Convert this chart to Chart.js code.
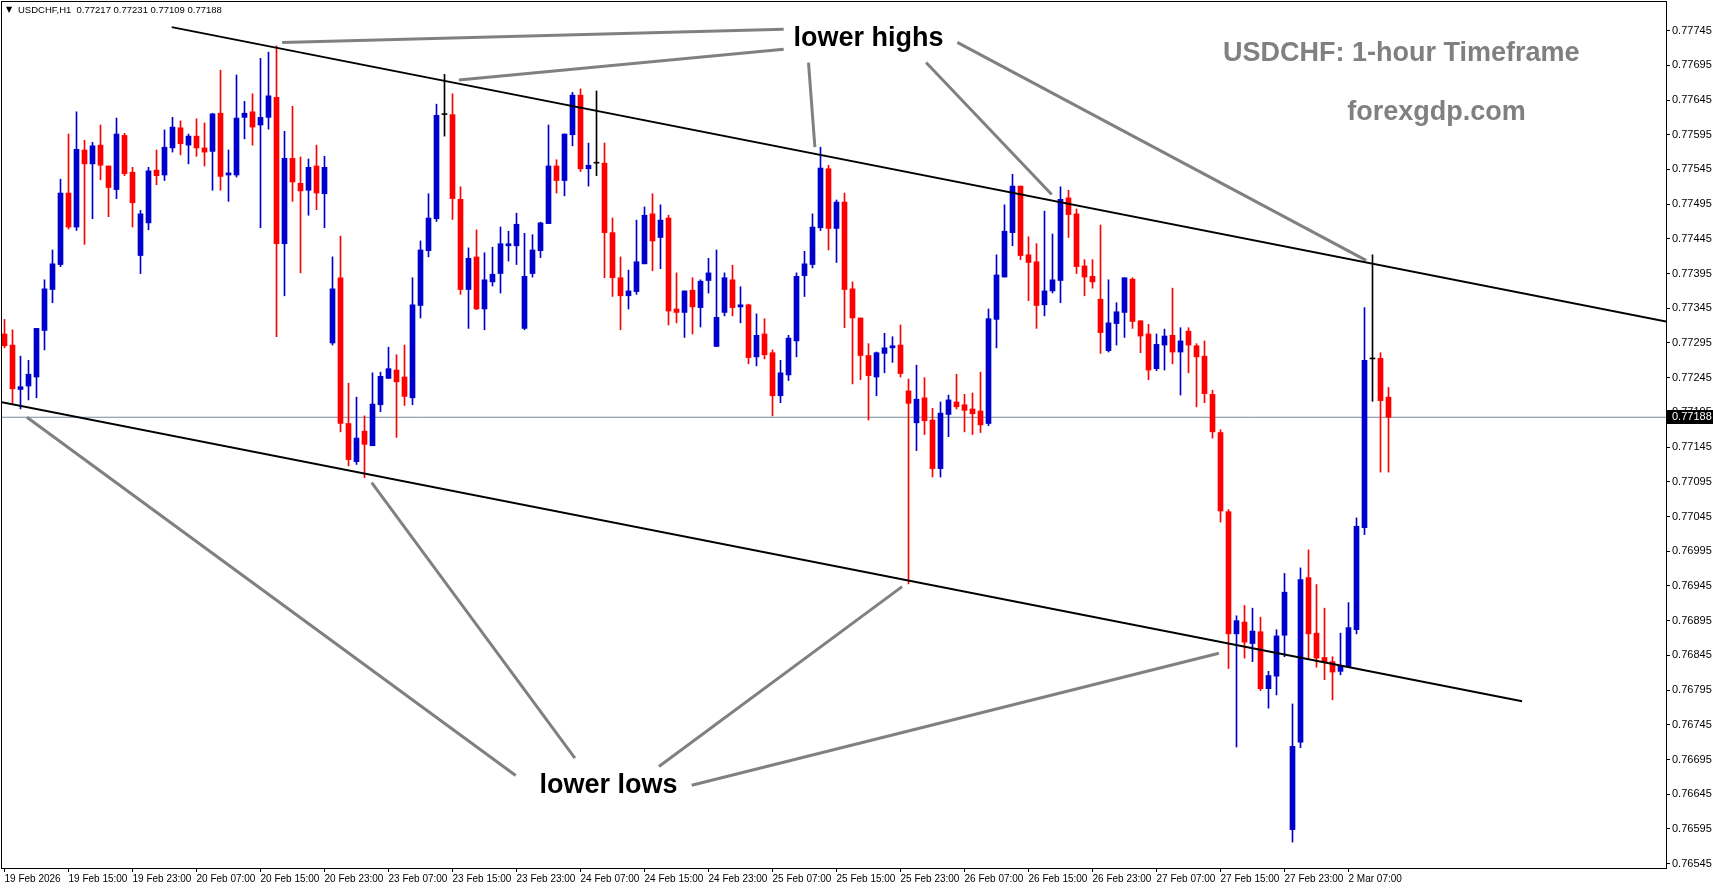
<!DOCTYPE html>
<html>
<head>
<meta charset="utf-8">
<title>USDCHF H1</title>
<script src="https://cdn.jsdelivr.net/npm/chart.js@4.4.1/dist/chart.umd.min.js"></script>
<style>
  html, body { margin: 0; padding: 0; background: #fff; }
  canvas { display: block; }
</style>
</head>
<body>
<canvas id="chart" width="1713" height="888"></canvas>
<script>
// USDCHF H1 bars, 19 Feb 2026 07:00 -> 2 Mar 2026 12:00
const opens = [
  0.77308, 0.77292, 0.77228, 0.77233, 0.77246, 0.77313, 0.77372, 0.77408, 0.77511, 0.77462,
  0.77573, 0.77553, 0.77580, 0.77550, 0.77516, 0.77594, 0.77541, 0.77421, 0.77468, 0.77544,
  0.77537, 0.77576, 0.77605, 0.77580, 0.77593, 0.77576, 0.77571, 0.77626, 0.77537, 0.77537,
  0.77620, 0.77628, 0.77609, 0.77620, 0.77649, 0.77438, 0.77561, 0.77525, 0.77515, 0.77550,
  0.77510, 0.77295, 0.77389, 0.77179, 0.77124, 0.77168, 0.77147, 0.77206, 0.77244, 0.77256,
  0.77246, 0.77216, 0.77349, 0.77428, 0.77474, 0.77624, 0.77624, 0.77502, 0.77372, 0.77419,
  0.77344, 0.77383, 0.77395, 0.77435, 0.77435, 0.77316, 0.77395, 0.77428, 0.77467, 0.77550,
  0.77529, 0.77595, 0.77652, 0.77546, 0.77554, 0.77554, 0.77454, 0.77389, 0.77363, 0.77369,
  0.77409, 0.77481, 0.77447, 0.77475, 0.77344, 0.77339, 0.77371, 0.77346, 0.77385, 0.77290,
  0.77339, 0.77386, 0.77347, 0.77350, 0.77275, 0.77308, 0.77281, 0.77219, 0.77249, 0.77298,
  0.77392, 0.77408, 0.77461, 0.77546, 0.77460, 0.77498, 0.77373, 0.77331, 0.77277, 0.77246,
  0.77280, 0.77288, 0.77292, 0.77226, 0.77180, 0.77216, 0.77184, 0.77114, 0.77192, 0.77210,
  0.77206, 0.77200, 0.77197, 0.77179, 0.77329, 0.77390, 0.77454, 0.77521, 0.77422, 0.77412,
  0.77350, 0.77370, 0.77385, 0.77504, 0.77481, 0.77406, 0.77391, 0.77358, 0.77284, 0.77323,
  0.77339, 0.77387, 0.77327, 0.77308, 0.77258, 0.77292, 0.77306, 0.77282, 0.77312, 0.77291,
  0.77276, 0.77221, 0.77166, 0.77052, 0.76876, 0.76893, 0.76862, 0.76879, 0.76797, 0.76815,
  0.76874, 0.76594, 0.76720, 0.76957, 0.76877, 0.76842, 0.76836, 0.76822, 0.76829, 0.76882,
  0.77029, 0.77272, 0.77273, 0.77217
];
const highs = [
  0.77329, 0.77314, 0.77276, 0.77270, 0.77316, 0.77386, 0.77429, 0.77531, 0.77596, 0.77628,
  0.77587, 0.77584, 0.77609, 0.77550, 0.77619, 0.77597, 0.77548, 0.77486, 0.77548, 0.77573,
  0.77602, 0.77620, 0.77615, 0.77596, 0.77618, 0.77612, 0.77626, 0.77688, 0.77573, 0.77681,
  0.77643, 0.77654, 0.77705, 0.77714, 0.77723, 0.77600, 0.77636, 0.77563, 0.77560, 0.77580,
  0.77564, 0.77419, 0.77449, 0.77237, 0.77217, 0.77190, 0.77252, 0.77253, 0.77289, 0.77278,
  0.77292, 0.77389, 0.77442, 0.77510, 0.77639, 0.77682, 0.77654, 0.77520, 0.77432, 0.77458,
  0.77425, 0.77433, 0.77462, 0.77456, 0.77482, 0.77453, 0.77451, 0.77469, 0.77609, 0.77559,
  0.77596, 0.77656, 0.77661, 0.77583, 0.77658, 0.77583, 0.77475, 0.77419, 0.77400, 0.77472,
  0.77491, 0.77510, 0.77494, 0.77479, 0.77396, 0.77370, 0.77389, 0.77386, 0.77417, 0.77429,
  0.77396, 0.77407, 0.77376, 0.77351, 0.77337, 0.77330, 0.77285, 0.77270, 0.77306, 0.77396,
  0.77427, 0.77481, 0.77577, 0.77551, 0.77501, 0.77511, 0.77383, 0.77331, 0.77294, 0.77282,
  0.77309, 0.77304, 0.77321, 0.77243, 0.77263, 0.77245, 0.77201, 0.77210, 0.77220, 0.77250,
  0.77221, 0.77223, 0.77253, 0.77344, 0.77422, 0.77494, 0.77538, 0.77521, 0.77448, 0.77438,
  0.77485, 0.77452, 0.77520, 0.77515, 0.77488, 0.77415, 0.77415, 0.77465, 0.77386, 0.77353,
  0.77389, 0.77389, 0.77327, 0.77322, 0.77308, 0.77315, 0.77374, 0.77317, 0.77317, 0.77294,
  0.77298, 0.77227, 0.77170, 0.77055, 0.76902, 0.76917, 0.76913, 0.76900, 0.76822, 0.76882,
  0.76963, 0.76775, 0.76971, 0.76997, 0.76947, 0.76913, 0.76843, 0.76877, 0.76921, 0.77043,
  0.77346, 0.77422, 0.77281, 0.77231
];
const lows = [
  0.77288, 0.77208, 0.77200, 0.77213, 0.77216, 0.77285, 0.77353, 0.77405, 0.77459, 0.77457,
  0.77437, 0.77474, 0.77530, 0.77477, 0.77503, 0.77536, 0.77462, 0.77395, 0.77458, 0.77523,
  0.77529, 0.77570, 0.77566, 0.77553, 0.77564, 0.77550, 0.77515, 0.77515, 0.77499, 0.77534,
  0.77589, 0.77580, 0.77461, 0.77603, 0.77304, 0.77363, 0.77499, 0.77396, 0.77479, 0.77487,
  0.77461, 0.77292, 0.77167, 0.77118, 0.77120, 0.77101, 0.77147, 0.77196, 0.77244, 0.77159,
  0.77205, 0.77206, 0.77331, 0.77419, 0.77470, 0.77593, 0.77473, 0.77365, 0.77316, 0.77343,
  0.77314, 0.77377, 0.77367, 0.77413, 0.77408, 0.77314, 0.77390, 0.77418, 0.77467, 0.77511,
  0.77507, 0.77579, 0.77542, 0.77521, 0.77536, 0.77389, 0.77362, 0.77314, 0.77344, 0.77365,
  0.77409, 0.77399, 0.77402, 0.77321, 0.77324, 0.77303, 0.77308, 0.77318, 0.77367, 0.77290,
  0.77334, 0.77334, 0.77324, 0.77265, 0.77262, 0.77272, 0.77190, 0.77209, 0.77241, 0.77275,
  0.77362, 0.77403, 0.77457, 0.77429, 0.77411, 0.77317, 0.77236, 0.77242, 0.77184, 0.77219,
  0.77252, 0.77267, 0.77246, 0.76948, 0.77140, 0.77163, 0.77102, 0.77102, 0.77160, 0.77200,
  0.77167, 0.77163, 0.77166, 0.77176, 0.77288, 0.77390, 0.77435, 0.77415, 0.77356, 0.77316,
  0.77334, 0.77367, 0.77353, 0.77447, 0.77395, 0.77363, 0.77374, 0.77280, 0.77282, 0.77292,
  0.77303, 0.77316, 0.77281, 0.77242, 0.77255, 0.77256, 0.77265, 0.77220, 0.77252, 0.77203,
  0.77209, 0.77158, 0.77037, 0.76826, 0.76713, 0.76841, 0.76836, 0.76794, 0.76769, 0.76788,
  0.76843, 0.76576, 0.76712, 0.76841, 0.76828, 0.76810, 0.76781, 0.76817, 0.76829, 0.76876,
  0.77019, 0.77211, 0.77109, 0.77109
];
const closes = [
  0.77291, 0.77229, 0.77232, 0.77250, 0.77316, 0.77373, 0.77409, 0.77511, 0.77462, 0.77574,
  0.77553, 0.77579, 0.77551, 0.77519, 0.77596, 0.77539, 0.77497, 0.77481, 0.77543, 0.77536,
  0.77577, 0.77606, 0.77582, 0.77593, 0.77576, 0.77570, 0.77625, 0.77535, 0.77540, 0.77619,
  0.77626, 0.77606, 0.77620, 0.77651, 0.77438, 0.77561, 0.77527, 0.77514, 0.77548, 0.77511,
  0.77548, 0.77373, 0.77179, 0.77127, 0.77158, 0.77149, 0.77207, 0.77247, 0.77258, 0.77239,
  0.77218, 0.77350, 0.77429, 0.77475, 0.77623, 0.77624, 0.77503, 0.77372, 0.77417, 0.77344,
  0.77386, 0.77394, 0.77438, 0.77438, 0.77466, 0.77391, 0.77429, 0.77468, 0.77550, 0.77529,
  0.77596, 0.77652, 0.77546, 0.77551, 0.77554, 0.77454, 0.77389, 0.77363, 0.77370, 0.77412,
  0.77479, 0.77442, 0.77472, 0.77341, 0.77339, 0.77370, 0.77347, 0.77384, 0.77396, 0.77332,
  0.77389, 0.77346, 0.77350, 0.77274, 0.77306, 0.77278, 0.77219, 0.77252, 0.77302, 0.77391,
  0.77409, 0.77462, 0.77547, 0.77460, 0.77498, 0.77372, 0.77331, 0.77277, 0.77248, 0.77281,
  0.77288, 0.77291, 0.77251, 0.77208, 0.77214, 0.77183, 0.77114, 0.77194, 0.77213, 0.77203,
  0.77198, 0.77193, 0.77177, 0.77330, 0.77393, 0.77456, 0.77521, 0.77421, 0.77411, 0.77349,
  0.77370, 0.77386, 0.77502, 0.77480, 0.77405, 0.77390, 0.77383, 0.77310, 0.77324, 0.77340,
  0.77389, 0.77326, 0.77305, 0.77256, 0.77293, 0.77305, 0.77282, 0.77298, 0.77292, 0.77275,
  0.77222, 0.77167, 0.77053, 0.76876, 0.76895, 0.76864, 0.76880, 0.76797, 0.76816, 0.76873,
  0.76936, 0.76714, 0.76954, 0.76876, 0.76841, 0.76835, 0.76821, 0.76830, 0.76885, 0.77031,
  0.77270, 0.77272, 0.77212, 0.77188
];

// one label every 8 bars, starting at bar 0
const timeLabels = [
  '19 Feb 2026', '19 Feb 15:00', '19 Feb 23:00', '20 Feb 07:00', '20 Feb 15:00', '20 Feb 23:00',
  '23 Feb 07:00', '23 Feb 15:00', '23 Feb 23:00', '24 Feb 07:00', '24 Feb 15:00', '24 Feb 23:00',
  '25 Feb 07:00', '25 Feb 15:00', '25 Feb 23:00', '26 Feb 07:00', '26 Feb 15:00', '26 Feb 23:00',
  '27 Feb 07:00', '27 Feb 15:00', '27 Feb 23:00', '2 Mar 07:00'
];
const priceTicks = [
  0.76545, 0.76595, 0.76645, 0.76695, 0.76745, 0.76795, 0.76845, 0.76895, 0.76945,
  0.76995, 0.77045, 0.77095, 0.77145, 0.77195, 0.77245, 0.77295, 0.77345, 0.77395,
  0.77445, 0.77495, 0.77545, 0.77595, 0.77645, 0.77695, 0.77745
];

// drawn objects, in bar index / price
const upperTrend = [{ x: 20.9, y: 0.77750 }, { x: 207.7, y: 0.77326 }];
const lowerTrend = [{ x: -0.5, y: 0.77210 }, { x: 189.7, y: 0.76779 }];
const highPointers = [
  [{ x: 34.7, y: 0.77728 }, { x: 97.4, y: 0.77747 }],
  [{ x: 56.8, y: 0.77674 }, { x: 97.4, y: 0.77718 }],
  [{ x: 100.5, y: 0.77699 }, { x: 101.3, y: 0.77577 }],
  [{ x: 115.2, y: 0.77699 }, { x: 130.9, y: 0.77509 }],
  [{ x: 119.1, y: 0.77728 }, { x: 170.2, y: 0.77414 }]
];
const lowPointers = [
  [{ x: 2.8, y: 0.77188 }, { x: 63.9, y: 0.76672 }],
  [{ x: 45.9, y: 0.77094 }, { x: 71.3, y: 0.76697 }],
  [{ x: 112.2, y: 0.76944 }, { x: 81.8, y: 0.76685 }],
  [{ x: 151.8, y: 0.76848 }, { x: 85.9, y: 0.76658 }]
];
const notes = [
  { text: 'lower highs', x: 108.0, y: 0.77733, color: '#000000' },
  { text: 'lower lows', x: 75.5, y: 0.76658, color: '#000000' },
  { text: 'USDCHF: 1-hour Timeframe', x: 174.6, y: 0.77712, color: '#808080' },
  { text: 'forexgdp.com', x: 179.0, y: 0.77627, color: '#808080' }
];

const BULL = '#0000cd', BEAR = '#ff0000', DOJI = '#000000';
const last = closes.length - 1;
const candleColors = closes.map((c, i) => c > opens[i] ? BULL : (c < opens[i] ? BEAR : DOJI));

const lineSet = (data, color, width, order) => ({
  type: 'line', data, borderColor: color, borderWidth: width,
  pointRadius: 0, tension: 0, fill: false, order
});

const datasets = [
  lineSet(upperTrend, '#000000', 2, 0),
  lineSet(lowerTrend, '#000000', 2, 0),
  ...highPointers.map(p => lineSet(p, '#808080', 3, 0)),
  ...lowPointers.map(p => lineSet(p, '#808080', 3, 0)),
  {
    type: 'bar', order: 2, grouped: false, barThickness: 5, minBarLength: 1,
    data: opens.map((o, i) => ({ x: i, y: [o, closes[i]] })),
    backgroundColor: candleColors, borderWidth: 0
  },
  {
    type: 'bar', order: 3, grouped: false, barThickness: 1,
    data: lows.map((l, i) => ({ x: i, y: [l, highs[i]] })),
    backgroundColor: candleColors, borderWidth: 0
  },
  lineSet([{ x: -1, y: closes[last] }, { x: 210, y: closes[last] }], '#778899', 1, 4)
];

const overlay = {
  id: 'overlay',
  afterDatasetsDraw(chart) {
    const { ctx, scales: { x, y } } = chart;
    ctx.save();
    ctx.textAlign = 'center';
    ctx.textBaseline = 'middle';
    ctx.font = 'bold 27px "Liberation Sans"';
    notes.forEach(n => {
      ctx.fillStyle = n.color;
      ctx.fillText(n.text, x.getPixelForValue(n.x), y.getPixelForValue(n.y));
    });
    ctx.restore();
  },
  afterDraw(chart) {
    const { ctx, chartArea: ca, scales: { y } } = chart;
    ctx.save();
    // frame
    ctx.strokeStyle = '#000';
    ctx.lineWidth = 1;
    ctx.strokeRect(ca.left - 0.5, ca.top - 0.5, ca.right - ca.left + 1, ca.bottom - ca.top + 1);
    // header
    ctx.fillStyle = '#000';
    ctx.textBaseline = 'middle';
    ctx.font = '8px "DejaVu Sans"';
    ctx.fillText('▼', 6, 10);
    ctx.font = '9.5px "Liberation Sans"';
    const ohlc = [opens[last], highs[last], lows[last], closes[last]].map(v => v.toFixed(5)).join(' ');
    ctx.fillText('USDCHF,H1  ' + ohlc, 18, 10);
    // current price box
    const py = Math.round(y.getPixelForValue(closes[last]));
    ctx.fillRect(ca.right + 1, py - 7, 50, 14);
    ctx.fillStyle = '#fff';
    ctx.font = '11px "Liberation Sans"';
    ctx.fillText(closes[last].toFixed(5), ca.right + 6, py);
    ctx.restore();
  }
};

Chart.defaults.font.family = '"Liberation Sans", sans-serif';
Chart.defaults.color = '#000';

new Chart(document.getElementById('chart'), {
  type: 'bar',
  data: { datasets },
  options: {
    responsive: false,
    devicePixelRatio: 1,
    animation: false,
    layout: { padding: { left: 2, top: 2, right: 0, bottom: 0 } },
    plugins: { legend: { display: false }, tooltip: { enabled: false } },
    scales: {
      x: {
        type: 'linear',
        min: -0.3125,
        max: 207.6875,
        offset: false,
        grid: { display: true, offset: false, drawOnChartArea: false, tickLength: 4, color: '#000' },
        border: { display: false },
        afterBuildTicks: s => { s.ticks = timeLabels.map((t, k) => ({ value: k * 8 })); },
        afterFit: s => { s.height = 20; s.paddingLeft = 0; s.paddingRight = 0; },
        ticks: {
          autoSkip: false, maxRotation: 0, minRotation: 0, align: 'start', padding: 1,
          font: { size: 10 },
          callback: v => timeLabels[Math.round(v / 8)]
        }
      },
      y: {
        type: 'linear',
        position: 'right',
        min: 0.765387,
        max: 0.777862,
        grid: { display: true, drawOnChartArea: false, tickLength: 4, color: '#000' },
        border: { display: false },
        afterBuildTicks: s => { s.ticks = priceTicks.map(v => ({ value: v })); },
        afterFit: s => { s.width = 47; s.paddingTop = 0; s.paddingBottom = 0; },
        ticks: { padding: 2, font: { size: 11 }, callback: v => v.toFixed(5) }
      }
    }
  },
  plugins: [overlay]
});
</script>
</body>
</html>
